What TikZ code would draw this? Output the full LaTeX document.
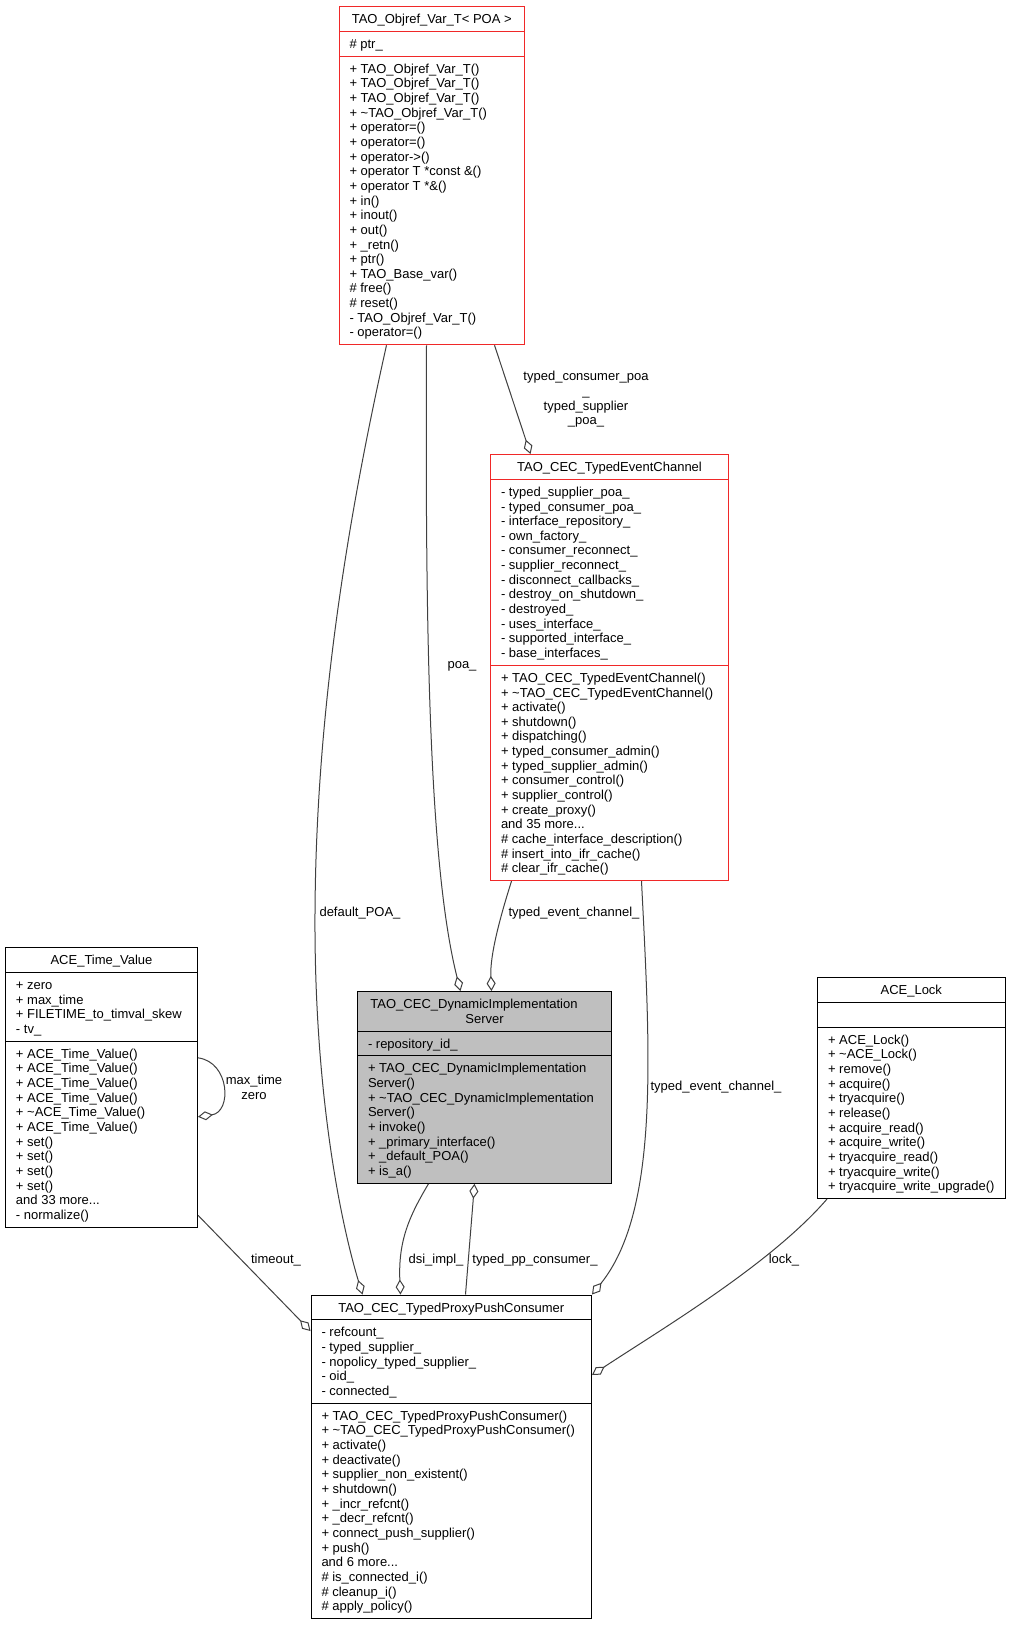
\documentclass[tikz,border=0pt]{standalone}
\usepackage{fontspec}
\setmainfont{Liberation Sans}
\usetikzlibrary{shapes.multipart,arrows.meta}
\definecolor{bordorosso}{RGB}{240,40,40}
\definecolor{grigioarco}{RGB}{64,64,64}
\tikzset{
  testo/.style={font=\fontsize{13}{14.65}\selectfont\setbox\strutbox\hbox{\vrule height 11.9pt depth 2.75pt width 0pt}},
  classe/.style={rectangle split, rectangle split parts=3,
    rectangle split part align={center,left,left},
    draw, line width=1pt, anchor=north west, align=left,
    inner xsep=10.5pt, inner ysep=4.6pt, testo},
  rossa/.style={classe, draw=bordorosso},
  aggrega/.style={draw=grigioarco, line width=1pt, -{Diamond[open, length=15pt, width=9pt]}},
  etichetta/.style={testo, inner sep=0pt, align=center}
}
\begin{document}
\begin{tikzpicture}[x=1pt, y=-1pt]
    \fill[white] (0,0) rectangle (1009,1627);

    % Classi
    \node[rossa, minimum width=185.5pt] (objref) at (338.5,6) {\strut TAO\_Objref\_Var\_T< POA >
      \nodepart{two}\strut\# ptr\_
      \nodepart{three}\strut+ TAO\_Objref\_Var\_T()\\+ TAO\_Objref\_Var\_T()\\+ TAO\_Objref\_Var\_T()\\
      + \textasciitilde TAO\_Objref\_Var\_T()\\+ operator=()\\+ operator=()\\+ operator->()\\
      + operator T *const \&()\\+ operator T *\&()\\+ in()\\+ inout()\\+ out()\\+ \_retn()\\
      + ptr()\\+ TAO\_Base\_var()\\\# free()\\\# reset()\\- TAO\_Objref\_Var\_T()\\- operator=()\strut};
    \node[rossa, minimum width=238pt] (tec) at (490,454) {\strut TAO\_CEC\_TypedEventChannel
      \nodepart{two}\strut- typed\_supplier\_poa\_\\- typed\_consumer\_poa\_\\- interface\_repository\_\\
      - own\_factory\_\\- consumer\_reconnect\_\\- supplier\_reconnect\_\\- disconnect\_callbacks\_\\
      - destroy\_on\_shutdown\_\\- destroyed\_\\- uses\_interface\_\\- supported\_interface\_\\- base\_interfaces\_\strut
      \nodepart{three}\strut+ TAO\_CEC\_TypedEventChannel()\\+ \textasciitilde TAO\_CEC\_TypedEventChannel()\\
      + activate()\\+ shutdown()\\+ dispatching()\\+ typed\_consumer\_admin()\\+ typed\_supplier\_admin()\\
      + consumer\_control()\\+ supplier\_control()\\+ create\_proxy()\\and 35 more...\\
      \# cache\_interface\_description()\\\# insert\_into\_ifr\_cache()\\\# clear\_ifr\_cache()\strut};
    \node[classe, minimum width=192pt] (timeval) at (5,947) {\strut ACE\_Time\_Value
      \nodepart{two}\strut+ zero\\+ max\_time\\+ FILETIME\_to\_timval\_skew\\- tv\_\strut
      \nodepart{three}\strut+ ACE\_Time\_Value()\\+ ACE\_Time\_Value()\\+ ACE\_Time\_Value()\\+ ACE\_Time\_Value()\\
      + \textasciitilde ACE\_Time\_Value()\\+ ACE\_Time\_Value()\\+ set()\\+ set()\\+ set()\\+ set()\\
      and 33 more...\\- normalize()\strut};
    \node[classe, fill=black!25, minimum width=254pt] (dynimpl) at (357,991)
      {\begin{tabular}{@{}c@{}}TAO\_CEC\_DynamicImplementation\hspace*{21pt}\\Server\end{tabular}
      \nodepart{two}\strut- repository\_id\_
      \nodepart{three}\strut+ TAO\_CEC\_DynamicImplementation\\Server()\\
      + \textasciitilde TAO\_CEC\_DynamicImplementation\\Server()\\+ invoke()\\+ \_primary\_interface()\\
      + \_default\_POA()\\+ is\_a()\strut};
    \node[classe, minimum width=187pt] (lock) at (817,977) {\strut ACE\_Lock
      \nodepart{two}\strut
      \nodepart{three}\strut+ ACE\_Lock()\\+ \textasciitilde ACE\_Lock()\\+ remove()\\+ acquire()\\+ tryacquire()\\
      + release()\\+ acquire\_read()\\+ acquire\_write()\\+ tryacquire\_read()\\+ tryacquire\_write()\\
      + tryacquire\_write\_upgrade()\strut};
    \node[classe, minimum width=280.5pt] (consumer) at (310.5,1294.5) {\strut TAO\_CEC\_TypedProxyPushConsumer
      \nodepart{two}\strut- refcount\_\\- typed\_supplier\_\\- nopolicy\_typed\_supplier\_\\- oid\_\\- connected\_\strut
      \nodepart{three}\strut+ TAO\_CEC\_TypedProxyPushConsumer()\\+ \textasciitilde TAO\_CEC\_TypedProxyPushConsumer()\\
      + activate()\\+ deactivate()\\+ supplier\_non\_existent()\\+ shutdown()\\+ \_incr\_refcnt()\\
      + \_decr\_refcnt()\\+ connect\_push\_supplier()\\+ push()\\and 6 more...\\
      \# is\_connected\_i()\\\# cleanup\_i()\\\# apply\_policy()\strut};

    % Aggregazioni
    \draw[aggrega] ([xshift=-45.25]objref.south) .. controls (345,530) and (316,720) .. (315,913)
      .. controls (314,1090) and (340,1220) .. ([xshift=-88.75]consumer.north);
    \draw[aggrega] ([xshift=-5.25]objref.south) .. controls (425,650) and (430,870) .. ([xshift=-24]dynimpl.north);
    \draw[aggrega] ([xshift=62.75]objref.south) -- ([xshift=-79]tec.north);
    \draw[aggrega] ([xshift=-98]tec.south) .. controls (496,930) and (490,960) .. ([xshift=7]dynimpl.north);
    \draw[aggrega] ([xshift=32]tec.south) .. controls (650,1050) and (660,1210) .. (consumer.north east);
    \draw[aggrega] ([xshift=-56]dynimpl.south) .. controls (410,1215) and (398,1240) .. ([xshift=-50.75]consumer.north);
    \draw[aggrega] ([xshift=14.25]consumer.north) -- ([xshift=-10]dynimpl.south);
    \draw[aggrega] ([yshift=29.5]timeval.east) .. controls (230,1062) and (232,1112) .. ([yshift=-29.5]timeval.east);
    \draw[aggrega] ([yshift=12.4]timeval.south east) -- ([yshift=-36.5]consumer.north west);
    \draw[aggrega] ([xshift=10]lock.south west) .. controls (770,1265) and (660,1330) .. ([yshift=-80.5]consumer.north east);

    % Etichette
    \node[etichetta] (l_default) at (360,913) {default\_POA\_};
    \node[etichetta] (l_poa) at (462,666) {poa\_};
    \node[etichetta] (l_typedpoa) at (586,399.5) {typed\_consumer\_poa\\\_\\typed\_supplier\hspace*{46pt}\\\_poa\_};
    \node[etichetta] (l_tec1) at (574,913) {typed\_event\_channel\_};
    \node[etichetta] (l_tec2) at (716,1087) {typed\_event\_channel\_};
    \node[etichetta] (l_dsi) at (436,1260) {dsi\_impl\_};
    \node[etichetta] (l_typedpp) at (535,1260) {typed\_pp\_consumer\_};
    \node[etichetta] (l_maxzero) at (254,1087.5) {max\_time\\zero};
    \node[etichetta] (l_timeout) at (276,1260) {timeout\_};
    \node[etichetta] (l_lock) at (784,1260) {lock\_};
\end{tikzpicture}
\end{document}
